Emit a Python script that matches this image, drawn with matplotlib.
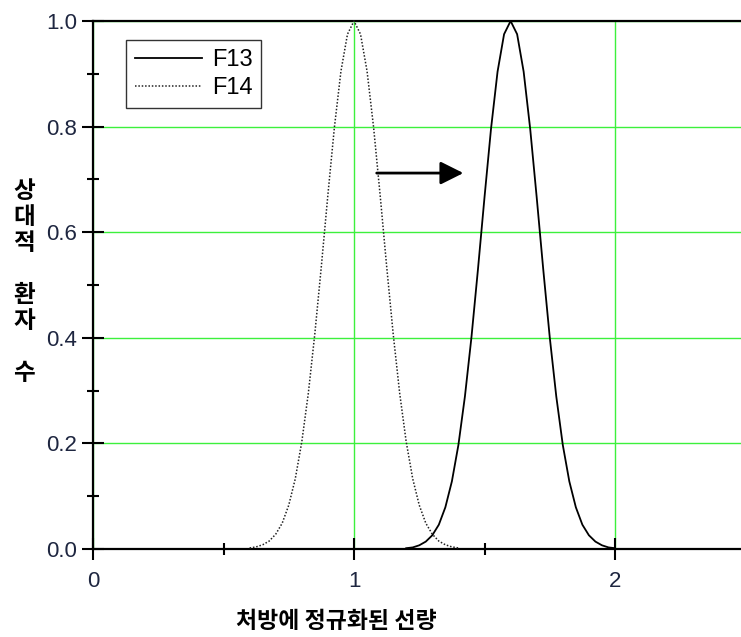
import matplotlib
matplotlib.use("Agg")
import matplotlib.pyplot as plt
from matplotlib.ticker import MultipleLocator, FixedLocator

# ---- data ----
f14_x = [0.600, 0.625, 0.650, 0.675, 0.700, 0.725, 0.750, 0.775, 0.800, 0.825,
         0.850, 0.875, 0.900, 0.925, 0.950, 0.975, 1.000, 1.025, 1.050, 1.075,
         1.100, 1.125, 1.150, 1.175, 1.200, 1.225, 1.250, 1.275, 1.300, 1.325,
         1.350, 1.375, 1.400]
f14_y = [0.002, 0.004, 0.008, 0.015, 0.028, 0.049, 0.083, 0.133, 0.203, 0.295,
         0.408, 0.536, 0.671, 0.799, 0.905, 0.975, 1.000, 0.975, 0.905, 0.799,
         0.671, 0.536, 0.408, 0.295, 0.203, 0.133, 0.083, 0.049, 0.028, 0.015,
         0.008, 0.004, 0.002]

f13_x = [1.200, 1.225, 1.250, 1.275, 1.300, 1.325, 1.350, 1.375, 1.400, 1.425,
         1.450, 1.475, 1.500, 1.525, 1.550, 1.575, 1.600, 1.625, 1.650, 1.675,
         1.700, 1.725, 1.750, 1.775, 1.800, 1.825, 1.850, 1.875, 1.900, 1.925,
         1.950, 1.975, 2.000]
f13_y = [0.0015, 0.003, 0.007, 0.014, 0.026, 0.046, 0.079, 0.128, 0.197, 0.289,
         0.401, 0.530, 0.666, 0.796, 0.904, 0.975, 1.000, 0.975, 0.904, 0.796,
         0.666, 0.530, 0.401, 0.289, 0.197, 0.128, 0.079, 0.046, 0.026, 0.014,
         0.007, 0.003, 0.0015]

series_labels = ["F13", "F14"]
x_ticks = [0, 1, 2]
x_tick_labels = ["0", "1", "2"]
y_ticks = [0.0, 0.2, 0.4, 0.6, 0.8, 1.0]
y_tick_labels = ["0.0", "0.2", "0.4", "0.6", "0.8", "1.0"]
x_label = "처방에 정규화된 선량"
y_label = "상\n대\n적\n\n환\n자\n\n수"
arrow_from = (1.087, 0.712)
arrow_to = (1.419, 0.712)

# ---- figure ----
W, H = 741, 637
fig = plt.figure(figsize=(W / 100, H / 100), dpi=100)
ax = fig.add_axes([93 / W, 88 / H, 652.5 / W, 528 / H])
ax.set_xlim(0, 2.5)
ax.set_ylim(0, 1.0)

grid_color = "#3cf03c"
ax.xaxis.set_major_locator(FixedLocator(x_ticks))
ax.set_xticklabels(x_tick_labels)
ax.xaxis.set_minor_locator(FixedLocator([0.5, 1.5]))
ax.yaxis.set_major_locator(FixedLocator(y_ticks))
ax.set_yticklabels(y_tick_labels)
ax.yaxis.set_minor_locator(MultipleLocator(0.1))
ax.grid(True, which="major", color=grid_color, linewidth=1.0, zorder=0)
ax.set_axisbelow(True)

ax.tick_params(axis="both", which="major", direction="inout", length=16,
               width=1.5, color="black", labelsize=16, labelcolor="#1e2640")
ax.tick_params(axis="both", which="minor", direction="inout", length=8.5,
               width=1.5, color="black")
ax.tick_params(axis="y", which="major", pad=3.2)
ax.tick_params(axis="x", which="major", pad=8)
for lab in ax.get_xticklabels() + ax.get_yticklabels():
    lab.set_family(["Liberation Sans", "DejaVu Sans"])

for side in ["left", "bottom", "top"]:
    ax.spines[side].set_linewidth(1.6)
    ax.spines[side].set_color("black")
ax.spines["right"].set_visible(False)

l13, = ax.plot(f13_x, f13_y, color="black", linewidth=1.3, solid_joinstyle="miter",
               label=series_labels[0], zorder=3, clip_on=False)
l14, = ax.plot(f14_x, f14_y, color="#222222", linewidth=1.1,
               linestyle=(0, (1, 1.2)), label=series_labels[1], zorder=3, clip_on=False)

ax.annotate("", xy=arrow_to, xytext=arrow_from,
            arrowprops=dict(arrowstyle="-|>,head_length=0.7,head_width=0.35",
                            mutation_scale=20, lw=2, color="black",
                            shrinkA=0, shrinkB=0), zorder=4)

leg = ax.legend(handles=[l13, l14], loc="upper left",
                bbox_to_anchor=(33 / 652.5, 1 - 19 / 528), borderaxespad=0,
                fancybox=False, shadow=False, framealpha=1, edgecolor="#333333",
                prop={"family": ["Liberation Sans", "DejaVu Sans"], "size": 17},
                handlelength=2.85, handletextpad=0.4, borderpad=0.38,
                labelspacing=0.25)
leg.get_frame().set_linewidth(1.0)

fig.text(336.5 / W, 1 - 622 / H, x_label, ha="center", va="center",
         fontsize=16.5, fontweight="bold", family=["Noto Sans CJK KR", "DejaVu Sans"])
fig.text(24 / W, 1 - 282 / H, y_label, ha="center", va="center",
         fontsize=17, fontweight="bold", linespacing=1.1,
         family=["Noto Sans CJK KR", "DejaVu Sans"])

fig.savefig("out.png", dpi=100)
